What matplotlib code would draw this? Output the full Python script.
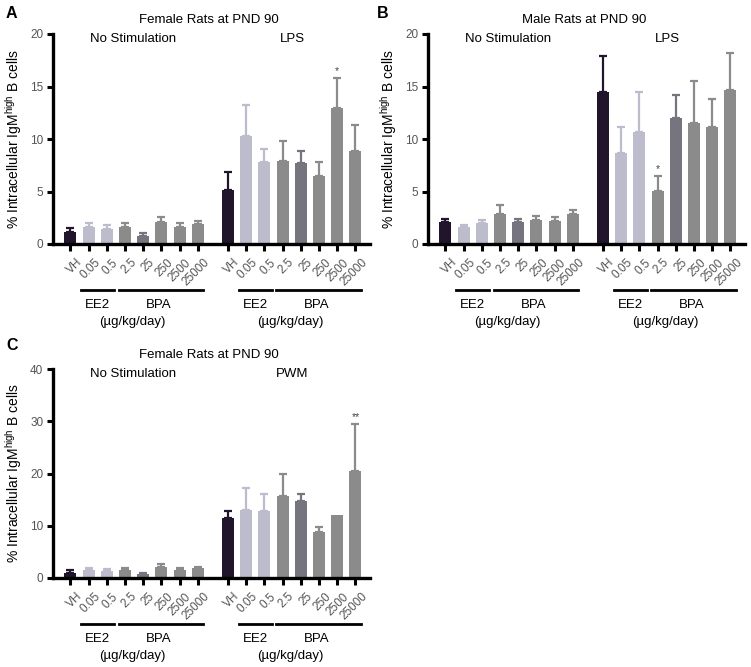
import matplotlib
matplotlib.use("Agg")
import matplotlib.pyplot as plt
import matplotlib.transforms as mtransforms
import numpy as np

plt.rcParams['font.family'] = ['Liberation Sans', 'DejaVu Sans']

# doses shown under each bar
dose_labels = ["VH", "0.05", "0.5", "2.5", "25", "250", "2500", "25000"]

# panel A: female, LPS
a_nostim = [1.14, 1.6, 1.45, 1.6, 0.76, 2.1, 1.65, 1.94]
a_nostim_err = [0.36, 0.4, 0.33, 0.4, 0.29, 0.47, 0.35, 0.26]
a_stim = [5.17, 10.3, 7.8, 7.94, 7.68, 6.44, 13.0, 8.83]
a_stim_err = [1.73, 2.9, 1.28, 1.9, 1.22, 1.4, 2.8, 2.47]
a_stars = {6: "*"}

# panel B: male, LPS
b_nostim = [2.1, 1.6, 2.0, 2.9, 2.1, 2.3, 2.15, 2.85]
b_nostim_err = [0.3, 0.2, 0.25, 0.8, 0.3, 0.4, 0.45, 0.35]
b_stim = [14.5, 8.7, 10.7, 5.05, 12.0, 11.5, 11.1, 14.7]
b_stim_err = [3.4, 2.4, 3.8, 1.45, 2.2, 4.0, 2.7, 3.5]
b_stars = {3: "*"}

# panel C: female, PWM
c_nostim = [0.96, 1.6, 1.4, 1.5, 0.7, 2.1, 1.6, 1.9]
c_nostim_err = [0.5, 0.25, 0.3, 0.5, 0.3, 0.5, 0.35, 0.25]
c_stim = [11.5, 13.1, 12.8, 15.7, 14.7, 8.75, 12.1, 20.4]
c_stim_err = [1.4, 4.1, 3.2, 4.2, 1.3, 1.1, 0.0, 9.0]
c_stars = {7: "**"}

colors = ["#20152a", "#bcbccd", "#bcbccd", "#8b8b8b", "#75747f",
          "#8b8b8b", "#8b8b8b", "#8b8b8b"]

GAP = 8.65
W_PX, H_PX = 751, 667

fig = plt.figure(figsize=(7.51, 6.67), dpi=100)


def add_panel(left, right, y0, ytop, nostim, nostim_err, stim, stim_err,
              stars, ymax, title, stim_name, letter, letter_xy):
    ax = fig.add_axes([left / W_PX, 1 - y0 / H_PX,
                       (right - left) / W_PX, (y0 - ytop) / H_PX])
    h_px = y0 - ytop
    x1 = np.arange(8)
    x2 = x1 + GAP
    for xs, vals, errs in [(x1, nostim, nostim_err), (x2, stim, stim_err)]:
        for x, v, e, c in zip(xs, vals, errs, colors):
            ax.bar(x, v, width=0.66, color=c, zorder=2)
            if e > 0:
                ax.errorbar(x, v, yerr=[[0], [e]], color=c, capsize=2.6,
                            elinewidth=1.6, capthick=1.6, zorder=1)
    for i, s in stars.items():
        ax.text(x2[i], stim[i] + stim_err[i] + ymax * 0.01, s,
                ha="center", va="bottom", fontsize=7.5, color="#444444")

    ax.set_xlim(-0.95, 16.45)
    ax.set_ylim(0, ymax)
    ax.set_yticks(np.linspace(0, ymax, 5))
    ax.set_yticklabels([str(int(t)) for t in np.linspace(0, ymax, 5)],
                       color="#555555", fontsize=8.5)
    ax.set_xticks(np.concatenate([x1, x2]))
    ax.set_xticklabels(dose_labels * 2, rotation=45, ha="right",
                       rotation_mode="anchor", color="#555555", fontsize=8.5)
    ax.tick_params(axis="x", length=5, width=2.2, pad=4)
    ax.tick_params(axis="y", length=4, width=2.2, pad=3)
    for lbl in ax.get_xticklabels():
        lbl.set_transform(lbl.get_transform() +
                          mtransforms.ScaledTranslation(4 / 72, 0, fig.dpi_scale_trans))
    for side in ["top", "right"]:
        ax.spines[side].set_visible(False)
    ax.spines["left"].set_linewidth(2.4)
    ax.spines["bottom"].set_linewidth(2.4)
    ax.set_ylabel("% Intracellular IgM$^{\\mathregular{high}}$ B cells",
                  fontsize=10, labelpad=4)

    trans = mtransforms.blended_transform_factory(ax.transData, ax.transAxes)
    ax.text(7.6, 1 + 14 / h_px, title, transform=trans, ha="center",
            va="center", fontsize=9.5)
    ax.text(3.45, 1 - 5 / h_px, "No Stimulation", transform=trans,
            ha="center", va="center", fontsize=9.5)
    ax.text(GAP + 3.55, 1 - 5 / h_px, stim_name, transform=trans,
            ha="center", va="center", fontsize=9.5)

    for off in [0, GAP]:
        ax.plot([off + 0.6, off + 2.4], [-46 / h_px] * 2, color="black",
                lw=2, transform=trans, clip_on=False)
        ax.plot([off + 2.65, off + 7.3], [-46 / h_px] * 2, color="black",
                lw=2, transform=trans, clip_on=False)
        ax.text(off + 1.5, -61 / h_px, "EE2", transform=trans, ha="center",
                va="center", fontsize=9.5)
        ax.text(off + 4.85, -61 / h_px, "BPA", transform=trans, ha="center",
                va="center", fontsize=9.5)
        ax.text(off + 3.4, -78 / h_px, "(µg/kg/day)", transform=trans,
                ha="center", va="center", fontsize=9.5)

    fig.text(letter_xy[0] / W_PX, 1 - letter_xy[1] / H_PX, letter,
             fontsize=11.5, fontweight="bold", ha="left", va="center")
    return ax


add_panel(53, 370, 244, 34, a_nostim, a_nostim_err, a_stim, a_stim_err,
          a_stars, 20, "Female Rats at PND 90", "LPS", "A", (6, 14))
add_panel(428, 745, 244, 34, b_nostim, b_nostim_err, b_stim, b_stim_err,
          b_stars, 20, "Male Rats at PND 90", "LPS", "B", (377, 14))
add_panel(53, 370, 578, 369, c_nostim, c_nostim_err, c_stim, c_stim_err,
          c_stars, 40, "Female Rats at PND 90", "PWM", "C", (6, 345))

fig.savefig("out.png", dpi=100)
